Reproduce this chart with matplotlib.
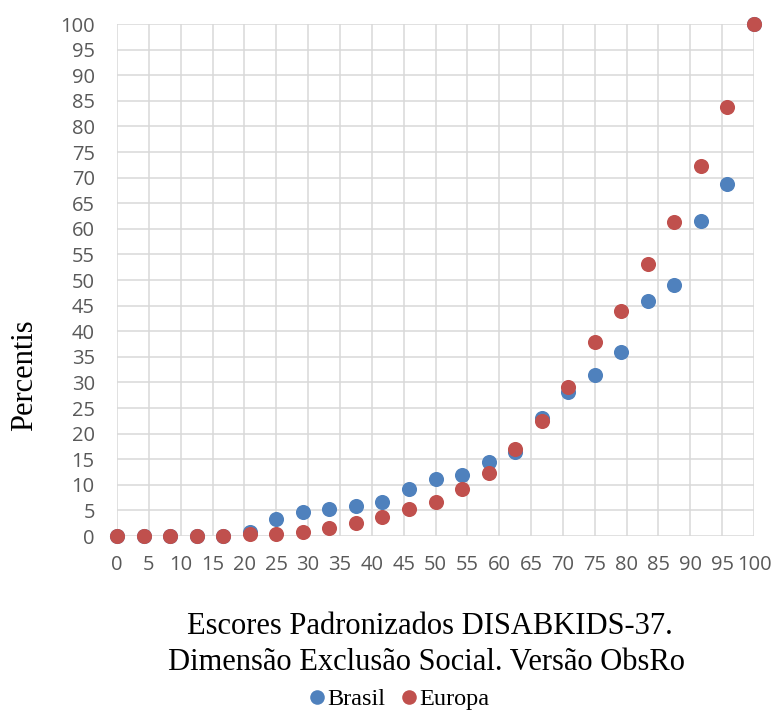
import matplotlib
matplotlib.use("Agg")
import matplotlib.pyplot as plt
from matplotlib.lines import Line2D

# Standardized scores (x) and percentile values for each sample
scores = [0, 4.17, 8.33, 12.5, 16.67, 20.83, 25, 29.17, 33.33, 37.5, 41.67,
          45.83, 50, 54.17, 58.33, 62.5, 66.67, 70.83, 75, 79.17, 83.33,
          87.5, 91.67, 95.83, 100]
brasil = [0, 0, 0, 0, 0, 0.8, 3.4, 4.7, 5.2, 5.8, 6.6,
          9.2, 11.1, 11.9, 14.4, 16.4, 23.0, 28.1, 31.5, 36.0, 45.9,
          49.0, 61.5, 68.7, 100]
europa = [0, 0, 0, 0, 0, 0.3, 0.3, 0.7, 1.5, 2.5, 3.7,
          5.3, 6.6, 9.2, 12.4, 16.9, 22.5, 29.1, 37.9, 43.9, 53.1,
          61.3, 72.2, 83.8, 100]

ticks = list(range(0, 101, 5))
series_names = ["Brasil", "Europa"]
colors = ["#4f81bd", "#c0504d"]

fig = plt.figure(figsize=(7.76, 7.10), dpi=100)
ax = fig.add_axes([117 / 776, 1 - 536 / 710, (754 - 117) / 776, (536 - 24) / 710])

ax.scatter(scores, brasil, s=118, color=colors[0], zorder=3, clip_on=False, linewidths=0)
ax.scatter(scores, europa, s=118, color=colors[1], zorder=4, clip_on=False, linewidths=0)

ax.set_xlim(0, 100)
ax.set_ylim(0, 100)
ax.set_xticks(ticks)
ax.set_yticks(ticks)
ax.grid(True, color="#d9d9d9", linewidth=1.1, zorder=0)
ax.set_axisbelow(True)
for sp in ax.spines.values():
    sp.set_visible(False)
ax.tick_params(length=0, colors="#595959", labelsize=14.5)
ax.tick_params(axis="y", pad=16)
ax.tick_params(axis="x", pad=14)
for lab in ax.get_xticklabels() + ax.get_yticklabels():
    lab.set_fontfamily("Open Sans")

serif = "Liberation Serif"
fig.text(25 / 776, 1 - 375 / 710, "Percentis", rotation=90, ha="center", va="center",
         fontsize=22, family=serif, color="black")
fig.text(430 / 776, 1 - 627 / 710, "Escores Padronizados DISABKIDS-37.", ha="center",
         va="center", fontsize=22, family=serif, color="black")
fig.text(426 / 776, 1 - 662 / 710, "Dimensão Exclusão Social. Versão ObsRo", ha="center",
         va="center", fontsize=22, family=serif, color="black")

handles = [Line2D([], [], marker="o", linestyle="none", markersize=10.5, color=c,
                  markeredgewidth=0) for c in colors]
fig.legend(handles, series_names, loc="center", bbox_to_anchor=(397 / 776, 1 - 699 / 710),
           ncol=2, frameon=False, handletextpad=-0.1, columnspacing=0.5, handlelength=1.0,
           prop={"family": serif, "size": 17.5})

fig.savefig("out.png", dpi=100)
